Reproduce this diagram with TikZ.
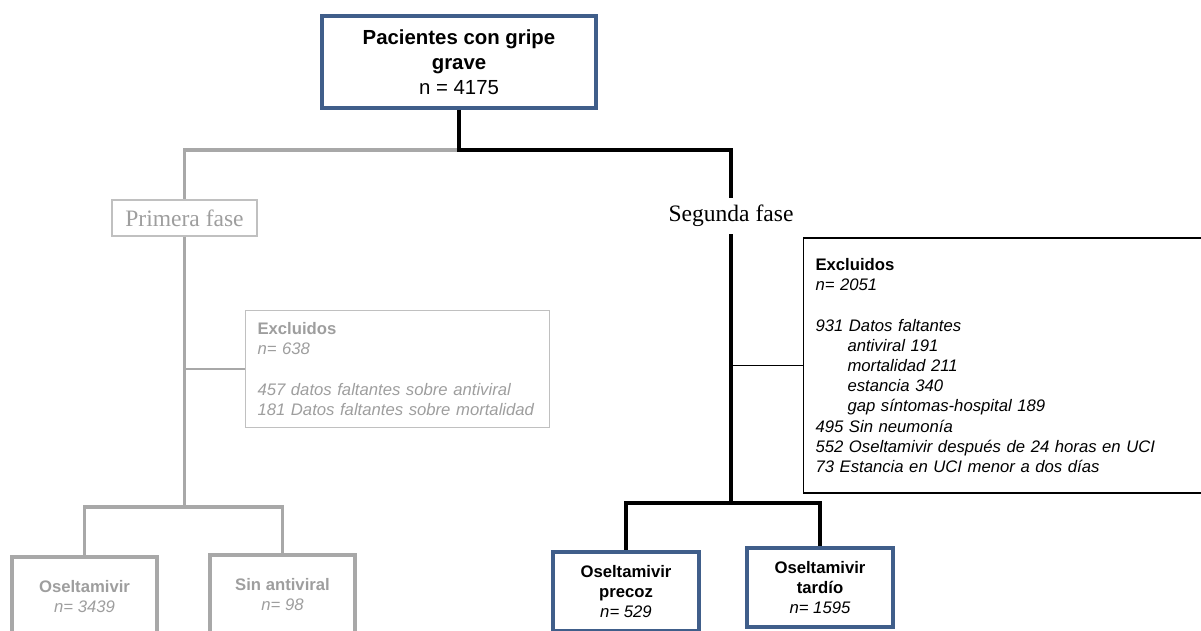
\documentclass[tikz,border=0pt]{standalone}
\usepackage{fontspec}
\setmainfont{Liberation Sans}
\newfontfamily\timesfont{Liberation Serif}
\definecolor{boxblue}{RGB}{64,94,138}
\definecolor{linegrey}{RGB}{168,168,168}
\definecolor{textgrey}{RGB}{158,158,158}
\definecolor{framegrey}{RGB}{192,192,192}

\tikzset{
  mainbox/.style={draw=boxblue, line width=1.8pt, align=center, minimum width=2.92cm, minimum height=1.58cm, font=\fontsize{9.5}{11.4}\selectfont},
  greybox/.style={draw=linegrey, line width=1.8pt, align=center, text=textgrey, minimum width=2.9cm, minimum height=1.58cm, font=\fontsize{9.5}{11.4}\selectfont},
  exclbox/.style={line width=0.6pt, align=left, inner sep=0.24cm, anchor=west, font=\fontsize{9.5}{11.5}\selectfont},
  fasetext/.style={font=\timesfont\fontsize{13.4}{15}\selectfont, minimum height=0.72cm},
  blackline/.style={line width=2pt},
  greyline/.style={draw=linegrey, line width=2pt},
}

\begin{document}
\begin{tikzpicture}
  \useasboundingbox (0cm,0cm) rectangle (24.02cm,-12.62cm);
  \node[mainbox, minimum width=5.48cm, minimum height=1.84cm, font=\fontsize{11.6}{14.2}\selectfont] (pacientes) at (9.18cm,-1.24cm) {\textbf{Pacientes con gripe}\\\textbf{grave}\\n = 4175};
  \node[fasetext, draw=framegrey, line width=0.8pt, text=textgrey, minimum width=2.9cm] (primera) at (3.69cm,-4.36cm) {Primera fase};
  \node[fasetext] (segunda) at (14.62cm,-4.32cm) {Segunda fase};
  \node[exclbox, draw=framegrey, text=textgrey, text width=5.6cm, minimum height=2.28cm] (excl1) at (4.9cm,-7.38cm) {\textbf{Excluidos}\\\textit{n= 638}\\[11.5pt]\textit{457 datos faltantes sobre antiviral}\\\textit{181 Datos faltantes sobre mortalidad}};
  \node[exclbox, draw, text width=7.72cm, minimum height=5.1cm] (excl2) at (16.06cm,-7.31cm) {\textbf{Excluidos}\\\textit{n= 2051}\\[11.5pt]\textit{931 Datos faltantes}\\\hspace*{0.64cm}\textit{antiviral 191}\\\hspace*{0.64cm}\textit{mortalidad 211}\\\hspace*{0.64cm}\textit{estancia 340}\\\hspace*{0.64cm}\textit{gap síntomas-hospital 189}\\\textit{495 Sin neumonía}\\\textit{552 Oseltamivir después de 24 horas en UCI}\\\textit{73 Estancia en UCI menor a dos días}};
  \node[greybox] (oselt) at (1.69cm,-11.93cm) {\textbf{Oseltamivir}\\\textit{n= 3439}};
  \node[greybox] (sinanti) at (5.65cm,-11.89cm) {\textbf{Sin antiviral}\\\textit{n= 98}};
  \node[mainbox] (precoz) at (12.52cm,-11.83cm) {\textbf{Oseltamivir}\\\textbf{precoz}\\\textit{n= 529}};
  \node[mainbox] (tardio) at (16.4cm,-11.75cm) {\textbf{Oseltamivir}\\\textbf{tardío}\\\textit{n= 1595}};
  \coordinate (topjoin) at (9.18cm,-3cm);
  \coordinate (leftjoin) at (3.69cm,-10.14cm);
  \coordinate (rightjoin) at (14.62cm,-10.06cm);
  \draw[greyline] (topjoin) -| (primera.north);
  \draw[blackline] (pacientes.south) -- (topjoin) -| (segunda.north);
  \draw[greyline] (primera.south) -- (leftjoin);
  \draw[greyline] (leftjoin) -| (oselt.north);
  \draw[greyline] (leftjoin) -| (sinanti.north);
  \draw[linegrey, line width=0.6pt] (primera.south |- excl1.west) -- (excl1.west);
  \draw[blackline] (segunda.south) -- (rightjoin);
  \draw[blackline] (rightjoin) -| (precoz.north);
  \draw[blackline] (rightjoin) -| (tardio.north);
  \draw[line width=0.6pt] (segunda.south |- excl2.west) -- (excl2.west);
\end{tikzpicture}
\end{document}
